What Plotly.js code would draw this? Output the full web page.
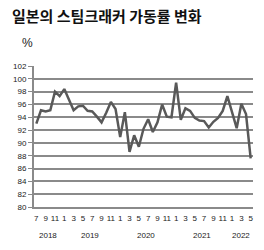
<!DOCTYPE html>
<html><head><meta charset="utf-8">
<script src="https://cdn.plot.ly/plotly-3.0.1.min.js"></script>
<style>html,body{margin:0;padding:0;background:#fff}#c{width:264px;height:250px}</style>
</head><body><div id="c"></div>
<script>
// monthly utilisation, 2018-07 .. 2022-05
const monthLabels = ["7","8","9","10","11","12","1","2","3","4","5","6","7","8","9","10","11","12","1","2","3","4","5","6","7","8","9","10","11","12","1","2","3","4","5","6","7","8","9","10","11","12","1","2","3","4","5"];
const rate = [93.0,95.1,94.9,95.1,98.0,97.3,98.4,96.6,95.1,95.7,95.8,95.0,94.9,94.1,93.2,94.7,96.4,95.3,90.9,94.8,88.6,91.2,89.4,92.2,93.7,91.7,93.2,96.0,94.1,94.0,99.4,93.6,95.4,95.0,93.9,93.5,93.4,92.4,93.3,93.9,95.0,97.3,94.7,92.3,96.1,94.5,87.6];
const years = ["2018","2019","2020","2021","2022"];
const yearCenters = [2.5,11.5,23.5,35.5,44];
const yTicks = [80,82,84,86,88,90,92,94,96,98,100,102];

const idx = rate.map((_, i) => i);
const tickIdx = idx.filter(i => i % 2 === 0);
const font = "Liberation Sans, Arial, sans-serif";

const annotations = years.map((y, k) => ({
  text: y, x: yearCenters[k], xref: "x", y: -(235 - 206.7) / (250 - 109), yref: "paper",
  showarrow: false, font: {family: font, size: 8, color: "#222"}, yanchor: "middle"
}));
annotations.push({
  text: "%", x: (27 - 34) / (264 - 45), xref: "paper", xanchor: "center",
  y: 1 + (66 - 43) / (250 - 109), yref: "paper", yanchor: "middle",
  showarrow: false, font: {family: font, size: 12, color: "#222"}
});

const layout = {
  width: 264, height: 250,
  margin: {l: 34, r: 11, t: 66, b: 43},
  paper_bgcolor: "#fff", plot_bgcolor: "#fff",
  showlegend: false,
  title: {text: "일본의 스팀크래커 가동률 변화", x: 12 / 264, xref: "container", xanchor: "left",
          y: 1 - 17 / 250, yref: "container", yanchor: "middle",
          font: {family: "Noto Sans CJK KR", size: 15, color: "#111", weight: "bold"}},
  xaxis: {
    range: [-0.5, 46.5], tickmode: "array", tickvals: tickIdx,
    ticktext: tickIdx.map(i => monthLabels[i]),
    tickangle: 0, showgrid: false, zeroline: false,
    showline: true, linecolor: "#8a8a8a", linewidth: 2,
    ticks: "outside", ticklen: 2, tickcolor: "rgba(0,0,0,0)",
    tickfont: {family: font, size: 8, color: "#222"}, fixedrange: true
  },
  yaxis: {
    range: [80, 102], tickmode: "array", tickvals: yTicks,
    showgrid: true, gridcolor: "#8a8a8a", gridwidth: 2, zeroline: false,
    showline: true, linecolor: "#8a8a8a", linewidth: 2,
    ticks: "outside", ticklen: 4, tickcolor: "#8a8a8a", tickwidth: 1,
    tickfont: {family: font, size: 8, color: "#222"}, fixedrange: true
  },
  annotations: annotations
};

Plotly.newPlot("c", [{
  x: idx, y: rate, type: "scatter", mode: "lines",
  line: {color: "#595959", width: 2.5}, hoverinfo: "skip"
}], layout, {displayModeBar: false, staticPlot: true});
</script></body></html>
